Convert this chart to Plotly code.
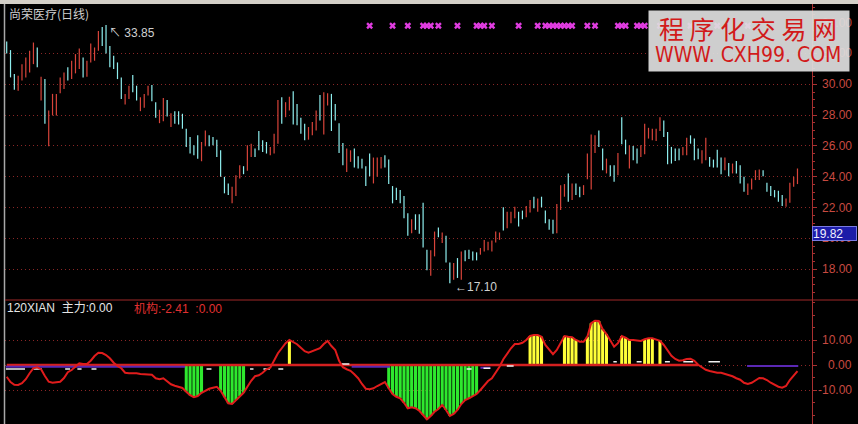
import plotly.graph_objects as go

W, H = 858, 424

# ---------------- data ----------------
highs = [32.77, 32.22, 30.67, 30.56, 31.31, 31.74, 32.17, 32.71, 32.39, 30.49,
         30.34, 28.30, 29.38, 29.38, 30.45, 30.77, 31.10, 31.53, 31.96, 32.32,
         31.74, 31.53, 32.65, 32.39, 33.46, 33.72, 33.85, 32.49, 31.85, 31.42,
         30.45, 29.38, 29.91, 30.60, 29.91, 29.16, 29.38, 29.91, 29.96, 28.84,
         28.35, 29.12, 28.99, 28.13, 28.26, 28.26, 28.09, 27.12, 26.58, 26.04,
         26.69, 26.26, 27.01, 26.69, 26.58, 26.41, 25.72, 24.00, 23.57, 23.35,
         24.11, 24.75, 24.69, 26.04, 26.15, 25.83, 26.97, 26.37, 26.26, 25.94,
         26.80, 28.99, 29.16, 28.84, 29.20, 29.55, 28.73, 27.83, 27.44, 27.23,
         27.55, 28.30, 29.31, 29.48, 29.42, 29.38, 28.73, 27.48, 26.19, 25.83,
         25.72, 25.83, 25.33, 25.18, 24.69, 25.51, 25.25, 25.25, 25.29, 25.40,
         25.12, 23.40, 23.29, 23.14, 22.75, 21.63, 21.25, 21.57, 21.57, 22.32,
         19.27, 19.23, 20.45, 20.71, 20.39, 20.17, 18.45, 18.41, 18.73, 19.16,
         19.23, 19.27, 19.16, 19.10, 19.38, 19.91, 19.79, 19.87, 20.45, 20.39,
         22.02, 21.74, 21.74, 22.06, 21.74, 21.81, 22.11, 22.50, 22.71, 22.60,
         22.71, 21.81, 21.25, 21.21, 22.24, 23.46, 23.53, 24.22, 23.57, 23.57,
         23.35, 23.46, 25.51, 26.75, 26.69, 27.01, 25.83, 25.18, 24.75, 24.75,
         25.55, 27.87, 26.41, 26.04, 26.00, 25.83, 26.04, 27.44, 27.18, 27.12,
         27.12, 27.87, 27.66, 26.90, 25.94, 25.83, 25.83, 25.94, 26.54, 26.69,
         26.48, 25.83, 25.72, 26.54, 25.29, 25.12, 25.76, 25.25, 25.25, 24.90,
         24.86, 25.03, 24.75, 24.00, 23.57, 23.89, 24.43, 24.48, 24.43, 23.61,
         23.40, 23.14, 23.10, 22.82, 22.60, 23.61, 24.00, 24.54]

lows = [32.00, 30.45, 29.64, 29.59, 30.24, 30.45, 30.77, 31.31, 31.10, 28.95,
        27.44, 25.98, 27.98, 27.98, 29.42, 29.70, 30.24, 30.34, 30.71, 31.00,
        30.45, 30.49, 31.42, 31.53, 32.17, 32.49, 32.00, 31.10, 31.00, 30.34,
        29.05, 28.69, 29.05, 29.48, 28.95, 28.26, 28.48, 29.27, 28.90, 27.83,
        27.48, 27.61, 27.91, 27.23, 27.44, 27.40, 27.12, 25.94, 25.51, 25.40,
        25.18, 25.01, 25.98, 25.98, 26.04, 25.29, 24.00, 22.93, 22.82, 22.28,
        22.75, 23.89, 24.17, 24.39, 25.29, 25.29, 25.72, 25.61, 25.51, 25.40,
        25.51, 26.15, 27.44, 27.87, 28.30, 27.40, 27.34, 26.80, 26.37, 26.41,
        26.69, 27.01, 27.66, 26.75, 28.62, 26.97, 27.66, 25.55, 24.75, 24.32,
        24.97, 24.60, 24.54, 24.54, 23.40, 24.04, 23.57, 24.00, 24.54, 24.60,
        23.53, 22.28, 22.50, 22.28, 21.31, 20.17, 20.34, 20.56, 20.30, 19.42,
        17.94, 17.59, 18.84, 20.08, 19.70, 18.45, 17.10, 17.33, 17.44, 17.33,
        18.52, 18.67, 18.58, 18.58, 18.95, 19.16, 19.23, 19.16, 19.74, 19.91,
        20.52, 20.67, 20.99, 21.31, 20.77, 21.25, 21.38, 21.68, 21.96, 21.74,
        22.02, 20.99, 20.56, 20.30, 20.34, 21.85, 22.71, 22.39, 22.50, 22.82,
        22.67, 22.82, 23.85, 23.18, 25.55, 25.94, 24.43, 24.22, 24.04, 23.68,
        24.11, 26.11, 25.46, 24.54, 25.08, 24.86, 25.29, 25.46, 26.48, 26.37,
        26.32, 26.97, 26.58, 24.82, 24.86, 25.03, 25.08, 25.40, 25.40, 26.15,
        25.08, 25.14, 24.86, 25.08, 24.65, 24.60, 24.60, 24.17, 24.43, 24.04,
        24.22, 24.22, 23.57, 23.03, 22.82, 23.18, 23.79, 23.79, 24.04, 23.03,
        22.75, 22.67, 22.39, 22.11, 22.06, 22.32, 23.35, 23.53]

# 1 = up day (red), 0 = down day (cyan)
up = [0, 0, 0, 1, 1, 1, 1, 1, 0, 1,
      0, 1, 1, 1, 1, 1, 0, 1, 1, 1,
      0, 1, 1, 1, 1, 0, 0, 0, 0, 0,
      0, 1, 1, 0, 0, 1, 1, 1, 0, 0,
      1, 1, 0, 1, 0, 0, 0, 0, 0, 0,
      0, 1, 1, 0, 0, 0, 0, 0, 0, 1,
      1, 1, 0, 1, 1, 0, 0, 0, 0, 1,
      1, 1, 0, 1, 1, 0, 0, 0, 0, 1,
      1, 1, 0, 1, 1, 0, 0, 0, 0, 1,
      1, 0, 0, 0, 0, 0, 1, 1, 1, 0,
      0, 0, 0, 0, 0, 0, 1, 0, 0, 0,
      0, 1, 1, 0, 1, 0, 0, 1, 0, 1,
      0, 0, 0, 0, 1, 1, 1, 1, 1, 1,
      0, 1, 1, 1, 0, 0, 1, 1, 0, 1,
      0, 0, 0, 0, 1, 1, 1, 0, 1, 0,
      0, 1, 1, 1, 1, 0, 0, 1, 0, 0,
      1, 0, 0, 1, 0, 0, 1, 1, 1, 1,
      1, 1, 0, 0, 0, 0, 0, 1, 1, 0,
      0, 0, 1, 1, 0, 0, 0, 0, 1, 0,
      1, 0, 0, 0, 1, 1, 1, 1, 0, 0,
      0, 0, 0, 0, 1, 1, 1, 1]

# 机构 oscillator (red curve)
jigou = [-4.7, -6.8, -7.9, -8.0, -7.3, -5.7, -3.3, -1.3, -0.9, -1.7,
         -4.4, -6.7, -7.1, -6.9, -6.7, -5.2, -2.9, -2.0, -0.8, 0.7,
         0.4, 0.4, 1.7, 3.6, 4.9, 4.8, 4.0, 2.7, 0.9, -0.4,
         -1.3, -3.1, -3.3, -3.2, -3.3, -3.6, -3.6, -3.6, -3.9, -5.3,
         -5.7, -5.3, -6.7, -7.7, -8.3, -8.7, -9.2, -10.7, -12.1, -12.9,
         -12.4, -11.1, -10.3, -9.5, -9.1, -8.7, -10.3, -12.9, -15.3, -15.6,
         -14.0, -12.4, -11.1, -8.7, -6.3, -4.5, -4.1, -3.1, -1.7, -1.1,
         1.7, 4.7, 6.7, 8.7, 10.0, 9.3, 8.3, 6.9, 5.5, 4.9,
         5.6, 6.3, 6.7, 8.4, 9.6, 7.6, 6.0, 1.7, -0.9, -1.7,
         -2.3, -3.7, -5.3, -7.6, -9.5, -9.7, -9.3, -8.4, -7.6, -6.8,
         -9.3, -11.6, -12.7, -13.3, -15.1, -17.3, -16.9, -17.3, -18.3, -20.0,
         -21.7, -20.4, -18.7, -17.6, -16.0, -18.0, -20.4, -19.6, -18.0, -15.6,
         -14.0, -13.3, -12.4, -11.6, -10.0, -8.0, -6.4, -5.3, -3.1, -0.7,
         2.3, 4.7, 6.7, 8.4, 8.4, 8.9, 10.0, 11.6, 12.0, 12.0,
         11.3, 8.0, 6.0, 4.3, 6.0, 8.9, 11.6, 11.3, 11.1, 10.0,
         9.3, 9.3, 11.3, 16.7, 17.7, 17.6, 14.3, 12.4, 10.0, 7.3,
         8.7, 11.6, 10.9, 10.0, 10.0, 9.7, 9.6, 10.3, 10.7, 10.7,
         10.3, 9.7, 8.0, 5.7, 3.7, 2.4, 1.7, 1.9, 2.4, 2.5,
         1.7, 0.1, -0.9, -1.9, -2.4, -2.8, -3.1, -3.1, -3.5, -4.0,
         -4.5, -5.3, -5.9, -7.1, -7.6, -7.1, -6.1, -5.2, -5.3, -6.0,
         -7.1, -8.0, -8.7, -9.1, -8.4, -6.0, -4.0, -2.41]

green_bars = [48, 49, 50, 51, 52, 57, 58, 59, 60, 61, 62, 63,
              101, 102, 103, 104, 105, 106, 107, 108, 109, 110, 111, 112,
              113, 114, 115, 116, 117, 118, 119, 120, 121, 122, 123, 124]
yellow_bars = [75, 138, 139, 140, 141, 147, 148, 149, 150,
               153, 154, 155, 156, 157, 158, 162, 163, 164, 168, 169, 170, 172]

signal_bars = [96, 102, 106, 110, 111, 112, 114, 119, 124, 125, 126, 128, 135, 140,
               142, 143, 144, 145, 146, 147, 148, 149, 153, 155, 161, 162, 163,
               166, 167, 168, 172, 180, 187, 195]
signal_level = 33.8

zero_line_end = 182
# 主力 (white) and purple near-zero pieces: start bar, end bar, value
white_start = [0.8, 8.0, 16.3, 19.5, 23.2, 53.3, 64.7, 68.2, 72.1, 88.7, 121.4, 125.8, 131.9,
               159.8, 165.9, 173.3, 178.1, 184.7]
white_end = [5.8, 10.2, 17.6, 20.6, 24.5, 54.6, 65.6, 69.9, 73.4, 90.7, 122.7, 127.6, 133.7,
             160.7, 167.2, 174.6, 180.7, 187.7]
white_val = [-1.6, -1.6, -1.6, -1.6, -1.6, -1.6, -1.6, -1.6, -1.6, 0.4, -1.6, -1.3, -0.4,
             1.3, 1.3, 1.3, 1.3, 1.3]
purple_start = [0.8, 91.3, 125.0, 194.8]
purple_end = [47.7, 101.3, 127.6, 208.2]
purple_val = [-0.7, -0.7, -1.1, -0.4]

price_ticks = [18, 20, 22, 24, 26, 28, 30, 32]
price_labels = [18, 20, 22, 24, 26, 28, 30, 32, 34]
osc_ticks = [-10, 0, 10]

title_text = "尚荣医疗(日线)"
ind_text = "120XIAN  主力:0.00"
ind_text2 = "机构:-2.41  :0.00"
last_mark = "19.82"

# ---------------- figure ----------------
RED_AX = "#a83030"
GRID = "#8a2626"
LBL = "#c84a40"

fig = go.Figure()
n = len(highs)
idx = list(range(1, n + 1))


def segs(flag):
    xs, ys = [], []
    for i, h, l, u in zip(idx, highs, lows, up):
        if u == flag:
            xs += [i, i, None]
            ys += [l, h, None]
    return xs, ys


for flag, col in [(1, "#d8443a"), (0, "#8eeeee")]:
    xs, ys = segs(flag)
    fig.add_trace(go.Scatter(x=xs, y=ys, mode="lines", line=dict(color=col, width=1.2),
                             hoverinfo="skip", showlegend=False))

fig.add_trace(go.Scatter(x=signal_bars, y=[signal_level] * len(signal_bars), mode="markers",
                         marker=dict(symbol="x", size=6, color="#e03ce0", line=dict(width=0)),
                         showlegend=False, hoverinfo="skip"))

# lower panel
fig.add_trace(go.Bar(x=green_bars, y=[jigou[i - 1] for i in green_bars], yaxis="y2",
                     marker=dict(color="#2ee82e", line=dict(width=0)), width=0.8, showlegend=False))
fig.add_trace(go.Bar(x=yellow_bars, y=[jigou[i - 1] for i in yellow_bars], yaxis="y2",
                     marker=dict(color="#ffff38", line=dict(width=0)), width=0.8, showlegend=False))

fig.add_trace(go.Scatter(x=[1, zero_line_end], y=[0, 0], yaxis="y2", mode="lines",
                         line=dict(color="#d42020", width=2.5), showlegend=False, hoverinfo="skip"))

px, py = [], []
for s, e, v in zip(purple_start, purple_end, purple_val):
    px += [s, e, None]
    py += [v, v, None]
fig.add_trace(go.Scatter(x=px, y=py, yaxis="y2", mode="lines", line=dict(color="#5a28b4", width=2),
                         showlegend=False, hoverinfo="skip"))
wx, wy = [], []
for s, e, v in zip(white_start, white_end, white_val):
    wx += [s, e, None]
    wy += [v, v, None]
fig.add_trace(go.Scatter(x=wx, y=wy, yaxis="y2", mode="lines", line=dict(color="#f0f0f0", width=1.5),
                         showlegend=False, hoverinfo="skip"))

fig.add_trace(go.Scatter(x=idx, y=jigou, yaxis="y2", mode="lines",
                         line=dict(color="#e01c1c", width=2), showlegend=False, hoverinfo="skip"))

y_split = 1 - 300 / H
fig.update_layout(
    width=W, height=H, margin=dict(l=0, r=0, t=0, b=0),
    paper_bgcolor="#000000", plot_bgcolor="#000000",
    barmode="overlay", showlegend=False,
    xaxis=dict(domain=[5 / W, 812 / W], range=[0.555, 211.8], visible=False, fixedrange=True),
    yaxis=dict(domain=[y_split, 1 - 4 / H], range=[16.01, 35.21], side="right", anchor="x",
               tickmode="array", tickvals=price_ticks, showticklabels=False,
               ticks="outside", ticklen=4, tickcolor=RED_AX,
               minor=dict(tickmode="linear", tick0=0, dtick=0.5, ticks="outside", ticklen=2,
                          tickcolor=RED_AX, showgrid=False),
               showgrid=True, gridcolor=GRID, griddash="1px,3px", gridwidth=1,
               zeroline=False, showline=True, linecolor=RED_AX, linewidth=1),
    yaxis2=dict(domain=[0, y_split], range=[-23.6, 26.0], side="right", anchor="x",
                tickmode="array", tickvals=osc_ticks, showticklabels=False,
                ticks="outside", ticklen=4, tickcolor=RED_AX,
                minor=dict(tickmode="linear", tick0=0, dtick=5, ticks="outside", ticklen=2,
                           tickcolor=RED_AX, showgrid=False),
                showgrid=True, gridcolor=GRID, griddash="1px,3px", gridwidth=1,
                zeroline=False, showline=True, linecolor=RED_AX, linewidth=1),
)

shapes = [
    dict(type="rect", xref="paper", yref="paper", x0=0, x1=1, y0=1 - 4 / H, y1=1,
         fillcolor="#d4d0c8", line=dict(width=0)),
    dict(type="line", xref="paper", yref="paper", x0=4.5 / W, x1=4.5 / W, y0=0, y1=1 - 4 / H,
         line=dict(color="#a8a8a8", width=1.5)),
    dict(type="line", xref="paper", yref="paper", x0=5 / W, x1=1, y0=y_split, y1=y_split,
         line=dict(color="#a02828", width=1)),
]
fig.update_layout(shapes=shapes)

ann = []
TXT = dict(family="Liberation Sans, Noto Sans CJK SC", size=12)
ann.append(dict(xref="paper", yref="paper", x=7 / W, y=1 - 13 / H, xanchor="left", yanchor="middle",
                text=title_text, showarrow=False,
                font=dict(family="Noto Sans CJK SC, Liberation Sans", size=12, color="#cfcfcf")))
ann.append(dict(xref="paper", yref="paper", x=5 / W, y=1 - 308 / H, xanchor="left", yanchor="middle",
                text=ind_text, showarrow=False, font=dict(TXT, color="#e6e6e6")))
ann.append(dict(xref="paper", yref="paper", x=132 / W, y=1 - 308 / H, xanchor="left", yanchor="middle",
                text=ind_text2, showarrow=False, font=dict(TXT, color="#e03030")))

for v in price_labels:
    ann.append(dict(xref="paper", yref="y", x=854 / W, y=v, xanchor="right", yanchor="middle",
                    text=f"{v:.2f}", showarrow=False, font=dict(TXT, color=LBL)))
for v in osc_ticks:
    ann.append(dict(xref="paper", yref="y2", x=854 / W, y=v, xanchor="right", yanchor="middle",
                    text=f"{v:.2f}", showarrow=False, font=dict(TXT, color=LBL)))

# high / low markers
hi_i = highs.index(max(highs)) + 1
lo_i = lows.index(min(lows)) + 1
ann.append(dict(xref="x", yref="y", x=hi_i + 0.2, y=max(highs) - 0.5, xanchor="left", yanchor="middle",
                text=f"↖ {max(highs):.2f}", showarrow=False, font=dict(TXT, color="#d0d0d0")))
ann.append(dict(xref="x", yref="y", x=lo_i + 0.7, y=min(lows) - 0.23, xanchor="left", yanchor="middle",
                text=f"←{min(lows):.2f}", showarrow=False, font=dict(TXT, color="#d0d0d0")))

# current value box
ann.append(dict(xref="paper", yref="paper", x=812 / W, y=1 - 233 / H, xanchor="left", yanchor="middle",
                text=last_mark, showarrow=False, align="left", width=43, height=13,
                bgcolor="#1c1ca8", bordercolor="#7a7ae0", borderwidth=1, borderpad=0,
                font=dict(TXT, color="#f0f0ff")))

# watermark
ann.append(dict(xref="paper", yref="paper", x=648 / W, y=1 - 10 / H, xanchor="left", yanchor="top",
                text=" ", showarrow=False, width=200, height=60, borderpad=0,
                bgcolor="rgba(222,222,222,0.93)", font=dict(size=10)))
ann.append(dict(xref="paper", yref="paper", x=748 / W, y=1 - 28 / H, xanchor="center", yanchor="middle",
                text="程 序 化 交 易 网", showarrow=False,
                font=dict(family="Noto Sans CJK SC", size=25, color="#d21a1a")))
ann.append(dict(xref="paper", yref="paper", x=748 / W, y=1 - 55 / H, xanchor="center", yanchor="middle",
                text="WWW. CXH99. COM", showarrow=False,
                font=dict(family="DejaVu Sans Condensed, Liberation Sans Narrow, Liberation Sans",
                          size=21, color="#d21a1a")))

fig.update_layout(annotations=ann)
fig.write_html("out.html", config={"displayModeBar": False, "staticPlot": True},
               post_script="document.body.style.margin='0';document.body.style.overflow='hidden';")
